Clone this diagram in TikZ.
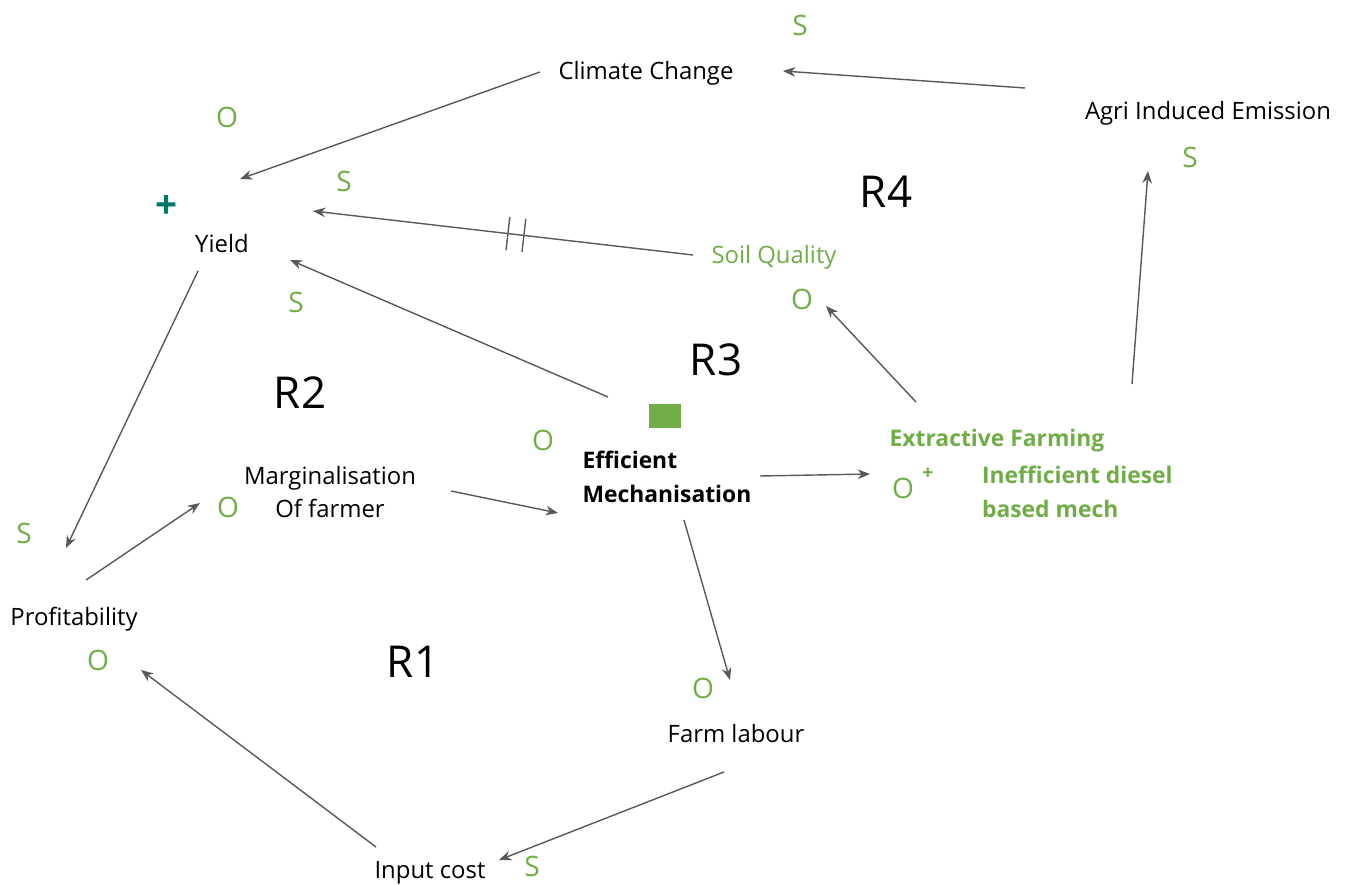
\documentclass[tikz,border=0pt]{standalone}
\usepackage{fontspec}
\setmainfont{Open Sans}
\usetikzlibrary{arrows.meta,calc}
\definecolor{loopgreen}{HTML}{70AD47}
\definecolor{plusteal}{HTML}{00796B}
\definecolor{arrowgrey}{HTML}{595959}
\tikzset{>=Stealth}

\begin{document}
\begin{tikzpicture}[x=0.02cm,y=-0.02cm,
    var/.style={font=\fontsize{13.6}{19}\selectfont, inner sep=1pt, align=center},
    pol/.style={text=loopgreen, font=\fontsize{16}{18}\selectfont, inner sep=0pt},
    loopname/.style={font=\fontsize{25}{28}\selectfont, inner sep=0pt},
    link/.style={->, draw=arrowgrey, line width=0.8pt, >={Stealth[length=7pt,width=5.5pt]}},
    hashmark/.style={draw=arrowgrey, line width=0.8pt, rectangle, minimum width=0pt,
        minimum height=19pt, inner sep=0pt, sloped}
]
    \useasboundingbox (0,0) rectangle (1349,885);

    % variables
    \node[var] (clim) at (646,73) {Climate Change};
    \node[var] (agri) at (1208,113) {Agri Induced Emission};
    \node[var] (yield) at (222,244) {Yield};
    \node[var, text=loopgreen] (soil) at (774,257) {Soil Quality};
    \node[var, font=\fontsize{13}{19}\selectfont\bfseries, align=left] (effm) at (667,477) {Efficient\\Mechanisation};
    \node[var] (marg) at (330,492) {Marginalisation\\Of farmer};
    \node[var, text=loopgreen, font=\fontsize{13}{19}\selectfont\bfseries] (extr) at (997,441) {Extractive Farming};
    \node[var, text=loopgreen, font=\fontsize{13}{19}\selectfont\bfseries, align=left, anchor=west] (ineff) at (980,492) {Inefficient diesel\\based mech};
    \node[var] (prof) at (74,619) {Profitability};
    \node[var] (labour) at (736,734) {Farm labour};
    \node[var] (input) at (430,873) {Input cost};

    % loop names
    \node[loopname] (rfour) at (886,192) {R4};
    \node[loopname] (rthree) at (716,360) {R3};
    \node[loopname] (rtwo) at (300,393) {R2};
    \node[loopname] (rone) at (413,662) {R1};
    \node[fill=loopgreen, minimum width=18pt, minimum height=13.5pt, inner sep=0pt] (delay) at (665,416) {};

    % polarities
    \node[pol] (sClim) at (800,25) {S};
    \node[pol] (oYield) at (227,117) {O};
    \node[pol] (sSoil) at (344,181) {S};
    \node[pol] (sEffm) at (296,302) {S};
    \node[pol] (oSoil) at (802,299) {O};
    \node[pol] (sAgri) at (1190,157) {S};
    \node[pol] (oEffm) at (543,440) {O};
    \node[pol] (oMarg) at (228,507) {O};
    \node[pol] (sProf) at (24,533) {S};
    \node[pol] (oProf) at (98,660) {O};
    \node[pol] (oExtr) at (903,488) {O};
    \node[text=loopgreen, font=\fontsize{11}{12}\selectfont\bfseries, inner sep=0pt] (pExtr) at (928,474) {+};
    \node[text=plusteal, font=\fontsize{22}{22}\selectfont\bfseries, inner sep=0pt] (pYield) at (167,207) {+};
    \node[pol] (oLabour) at (703,688) {O};
    \node[pol] (sInput) at (532,866) {S};

    % links
    \draw[link] ($(clim)+(-106,-1)$) -- ($(yield)+(18,-65)$);
    \draw[link] ($(agri)+(-183,-25)$) -- ($(clim)+(137,-2)$);
    \draw[link] ($(soil)+(-81,-2)$) -- node[hashmark, pos=0.445] {} node[hashmark, pos=0.487] {} ($(yield)+(91,-33)$);
    \draw[link] ($(effm)+(-59,-80)$) -- ($(yield)+(68,16)$);
    \draw[link] ($(yield)+(-24,27)$) -- ($(prof)+(-8,-71)$);
    \draw[link] ($(prof)+(12,-39)$) -- ($(marg)+(-130,11)$);
    \draw[link] ($(marg)+(121,-1)$) -- ($(effm)+(-109,36)$);
    \draw[link] ($(effm)+(93,-1)$) -- ($(extr)+(-127,33)$);
    \draw[link] ($(effm)+(17,43)$) -- ($(labour)+(-6,-54)$);
    \draw[link] ($(extr)+(-81,-39)$) -- ($(soil)+(52,49)$);
    \draw[link] ($(extr)+(135,-57)$) -- ($(agri)+(-60,58)$);
    \draw[link] ($(labour)+(-12,38)$) -- ($(input)+(69,-13)$);
    \draw[link] ($(input)+(-54,-26)$) -- ($(prof)+(67,51)$);
\end{tikzpicture}
\end{document}
